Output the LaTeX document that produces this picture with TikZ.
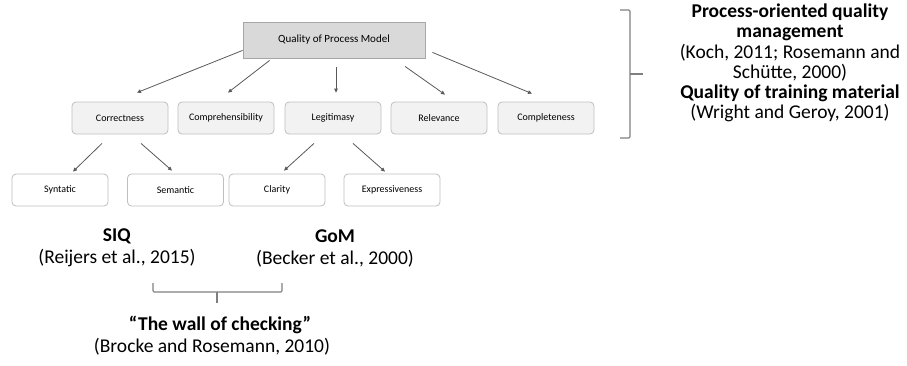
\documentclass[tikz,border=0pt]{standalone}
\usepackage{fontspec}
\setmainfont{Carlito}
\usetikzlibrary{calc,arrows.meta}
\definecolor{topfill}{HTML}{D9D9D9}
\definecolor{topedge}{HTML}{A6A6A6}
\definecolor{midfill}{HTML}{F2F2F2}
\definecolor{boxedge}{HTML}{BFBFBF}
\definecolor{linkgray}{HTML}{595959}
\definecolor{bracegray}{HTML}{7F7F7F}
\begin{document}
\begin{tikzpicture}[x=1pt,y=-1pt,
  topbox/.style={draw=topedge, fill=topfill, line width=0.8pt, minimum width=182pt, minimum height=36pt,
    inner sep=0pt, font=\fontsize{11}{13}\selectfont},
  midbox/.style={draw=boxedge, fill=midfill, line width=0.8pt, rounded corners=4pt, minimum width=96pt,
    minimum height=32pt, inner sep=0pt, font=\fontsize{10}{12}\selectfont},
  lowbox/.style={midbox, fill=white},
  link/.style={draw=linkgray, line width=0.8pt, -{Triangle[length=4pt,width=3.6pt]}},
  reftext/.style={align=center, inner sep=0pt, font=\fontsize{19.5}{22}\selectfont},
  brace/.style={draw=bracegray, line width=1.1pt, rounded corners=1.2pt}
]
\useasboundingbox (0,0) rectangle (907,365);

% hierarchy of quality dimensions
\node[topbox] (top) at (334,40) {Quality of Process Model};

\node[midbox] (corr)  at (120,118) {Correctness};
\node[midbox] (comp)  at (226,118) {Comprehensibility};
\node[midbox] (legit) at (333,118) {Legitimasy};
\node[midbox] (relev) at (439,118) {Relevance};
\node[midbox] (compl) at (546,118) {Completeness};

\node[lowbox] (syn) at (60,190)    {Syntatic};
\node[lowbox] (sem) at (175.5,190) {Semantic};
\node[lowbox] (cla) at (277,190)   {Clarity};
\node[lowbox] (exp) at (392,190)   {Expressiveness};

% top level links
\draw[link] ($(top.south west)+(0,-8)$)  -- ($(corr.north)+(17,-9)$);
\draw[link] ($(top.south west)+(27,2)$)  -- ($(comp.north)+(2,-9)$);
\draw[link] ($(top.south)+(2,9)$)        -- ($(legit.north)+(3,-9)$);
\draw[link] ($(top.south)+(71,8)$)       -- ($(relev.north)+(6,-7)$);
\draw[link] ($(top.south east)+(7,-6)$)  -- ($(compl.north)+(-14,-8)$);

% second level links
\draw[link] ($(corr.south)+(-18,9)$)  -- ($(syn.north)+(13,-2)$);
\draw[link] ($(corr.south)+(21,9)$)   -- ($(sem.north)+(-3.5,-3)$);
\draw[link] ($(legit.south)+(-19,9)$) -- ($(cla.north)+(7,-3)$);
\draw[link] ($(legit.south)+(20,9)$)  -- ($(exp.north)+(-7,-2)$);

% sources
\node[reftext] (siq) at (117,248) {\textbf{SIQ}\\(Reijers et al., 2015)};
\node[reftext] (gom) at (335,248) {\textbf{GoM}\\(Becker et al., 2000)};
\node[reftext] (wallt) at (220,325) {\textbf{“The wall of checking”}};
\node[reftext] (wallr) at (212,347) {(Brocke and Rosemann, 2010)};

\node[reftext, font=\fontsize{19.5}{20.2}\selectfont] (pom) at (790,63)
  {\textbf{Process-oriented quality}\\\textbf{management}\\(Koch, 2011; Rosemann and\\Schütte, 2000)\\
   \textbf{Quality of training material}\\(Wright and Geroy, 2001)};

% braces
\draw[brace] (153,283) -- (153,292) -- (282,292) -- (282,283);
\draw[brace] (217,292) -- (217,303);
\draw[brace] (620,10) -- (630,10) -- (630,138) -- (620,138);
\draw[brace] (630,74) -- (643,74);
\end{tikzpicture}
\end{document}
